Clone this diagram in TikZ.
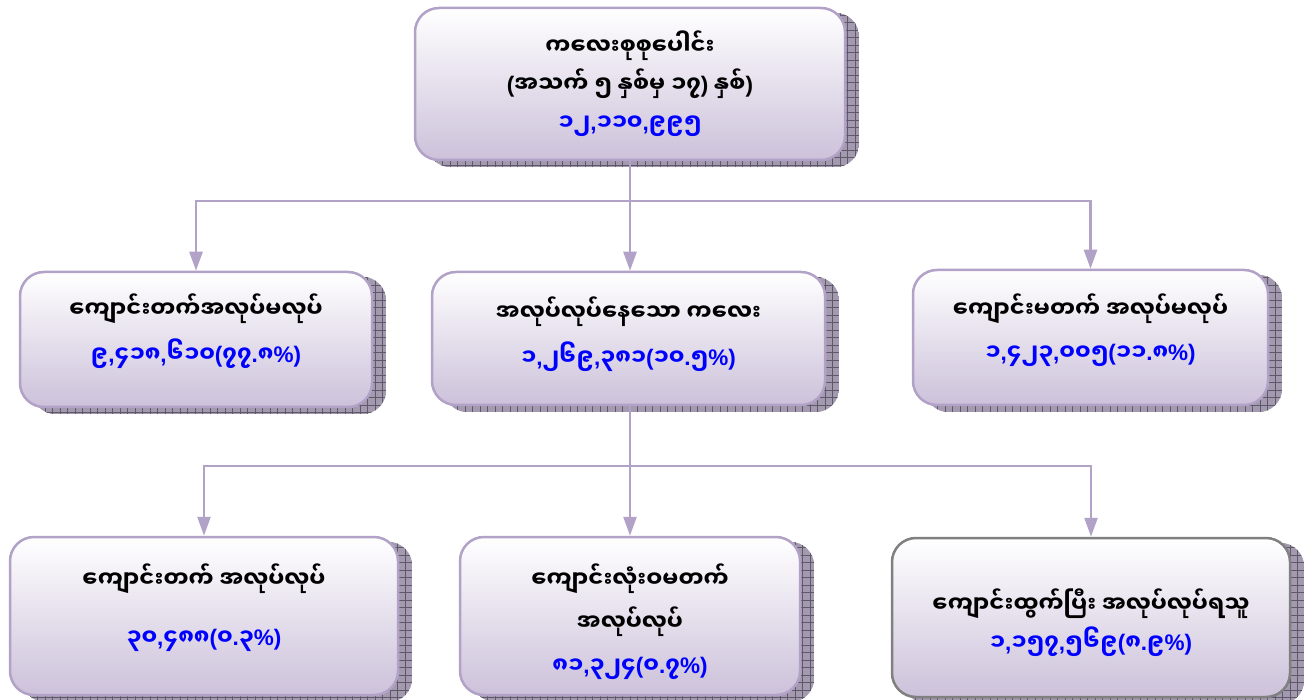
\documentclass[tikz,border=0pt]{standalone}
\usepackage{fontspec}
\newfontfamily\mm[Script=Myanmar]{Noto Sans Myanmar UI}
\newfontfamily\latf{Liberation Sans}
\newcommand\pu[1]{{\latf\bfseries #1}}
\usetikzlibrary{arrows.meta,backgrounds,calc}
\definecolor{lav}{HTML}{CCC1DA}
\definecolor{lline}{HTML}{B2A2C7}
\definecolor{gline}{HTML}{808080}
\definecolor{shfill}{HTML}{A39AAF}
\definecolor{shgrid}{HTML}{5E5868}
\definecolor{numblue}{HTML}{0000FF}
\begin{document}
\begin{tikzpicture}[x=1pt,y=1pt,
  box/.style={rectangle, rounded corners=24pt, draw=lline, line width=2.5pt,
    top color=white, bottom color=lav, inner sep=0pt},
  txt/.style={align=center, font=\mm\bfseries\fontsize{22.5}{38}\selectfont, inner sep=0pt},
  conn/.style={draw=lline, line width=2.5pt},
  arr/.style={conn, -{Triangle[width=13pt,length=19pt]}}]
\useasboundingbox (0,0) rectangle (1315,-700);

% boxes
\node[box, minimum width=430pt, minimum height=152pt] (top) at (630,-84) {};
\node[box, minimum width=352pt, minimum height=135pt] (m1) at (196,-339.5) {};
\node[box, minimum width=393pt, minimum height=133pt] (m2) at (628.5,-338.5) {};
\node[box, minimum width=355pt, minimum height=135pt] (m3) at (1090.5,-337.5) {};
\node[box, minimum width=388pt, minimum height=158pt] (b1) at (204,-616) {};
\node[box, minimum width=340pt, minimum height=158pt] (b2) at (630,-616) {};
\node[box, draw=gline, minimum width=398pt, minimum height=159pt] (b3) at (1091,-617.5) {};

% shadows
\begin{scope}[on background layer]
\foreach \n in {top,m1,m2,m3,b1,b2,b3}{
  \begin{scope}
    \clip[rounded corners=24pt] ($(\n.north west)+(13,-6)$) rectangle ($(\n.south east)+(13,-6)$);
    \fill[shfill] ($(\n.north west)+(13,-6)$) rectangle ($(\n.south east)+(13,-6)$);
    \draw[shgrid, line width=0.5pt, step=7.5] ($(\n.north west)+(13,-6)$) grid ($(\n.south east)+(13,-6)$);
  \end{scope}
}
\end{scope}

% texts
\node[txt] (topT) at (top.center) {ကလေးစုစုပေါင်း\\\pu{(}အသက် ၅ နှစ်မှ ၁၇\pu{)} နှစ်\pu{)}\\\textcolor{numblue}{၁၂\pu{,}၁၁၀\pu{,}၉၉၅}};
\node[txt] (m1T) at ($(m1.center)+(0,8)$) {ကျောင်းတက်အလုပ်မလုပ်\\[7pt]\textcolor{numblue}{၉\pu{,}၄၁၈\pu{,}၆၁၀\pu{(}၇၇\pu{.}၈\pu{\%)}}};
\node[txt] (m2T) at ($(m2.center)+(0,4)$) {အလုပ်လုပ်နေသော ကလေး\\[7pt]\textcolor{numblue}{၁\pu{,}၂၆၉\pu{,}၃၈၁\pu{(}၁၀\pu{.}၅\pu{\%)}}};
\node[txt] (m3T) at ($(m3.center)+(0,7)$) {ကျောင်းမတက် အလုပ်မလုပ်\\[5pt]\textcolor{numblue}{၁\pu{,}၄၂၃\pu{,}၀၀၅\pu{(}၁၁\pu{.}၈\pu{\%)}}};
\node[txt] (b1T) at ($(b1.center)+(0,8)$) {ကျောင်းတက် အလုပ်လုပ်\\[20pt]\textcolor{numblue}{၃၀\pu{,}၄၈၈\pu{(}၀\pu{.}၃\pu{\%)}}};
\node[txt] (b2T) at ($(b2.center)+(0,-6)$) {ကျောင်းလုံးဝမတက်\\[5pt]အလုပ်လုပ်\\[5pt]\textcolor{numblue}{၈၁\pu{,}၃၂၄\pu{(}၀\pu{.}၇\pu{\%)}}};
\node[txt] (b3T) at ($(b3.center)+(0,-5)$) {ကျောင်းထွက်ပြီး အလုပ်လုပ်ရသူ\\\textcolor{numblue}{၁\pu{,}၁၅၇\pu{,}၅၆၉\pu{(}၈\pu{.}၉\pu{\%)}}};

% connectors level 1
\coordinate (j1) at ($(top.south)+(0,-40)$);
\draw[conn] (top.south) -- (j1);
\draw[arr] (j1) -| (m1.north);
\draw[arr] (j1) -| (m3.north);
\draw[arr] (j1) -- (m2.north -| j1);
% connectors level 2
\coordinate (j2) at ($(m2.south)+(1.5,-60)$);
\draw[conn] (m2.south -| j2) -- (j2);
\draw[arr] (j2) -| (b1.north);
\draw[arr] (j2) -| (b3.north);
\draw[arr] (j2) -- (b2.north -| j2);
\end{tikzpicture}
\end{document}
